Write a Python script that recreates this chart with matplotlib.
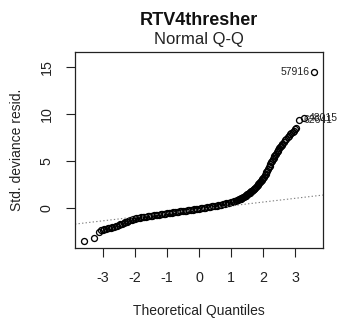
import matplotlib
matplotlib.use("Agg")
import matplotlib.pyplot as plt
from matplotlib.transforms import blended_transform_factory, ScaledTranslation

plt.rcParams['font.family'] = ['Liberation Sans', 'DejaVu Sans']

# Sorted standardized deviance residuals against their theoretical normal quantiles
theoretical = [
    -3.58, -3.28, -3.13, -3.06,
    -3.00, -2.95, -2.90, -2.85, -2.80, -2.75, -2.70, -2.65, -2.60, -2.55,
    -2.50, -2.45, -2.40, -2.35, -2.30, -2.25, -2.20, -2.15, -2.10, -2.05,
    -2.00, -1.95, -1.90, -1.85, -1.80, -1.75, -1.70, -1.65, -1.60, -1.55,
    -1.50, -1.45, -1.40, -1.35, -1.30, -1.25, -1.20, -1.15, -1.10, -1.05,
    -1.00, -0.95, -0.90, -0.85, -0.80, -0.75, -0.70, -0.65, -0.60, -0.55,
    -0.50, -0.45, -0.40, -0.35, -0.30, -0.25, -0.20, -0.15, -0.10, -0.05,
    0.00, 0.05, 0.10, 0.15, 0.20, 0.25, 0.30, 0.35, 0.40, 0.45,
    0.50, 0.55, 0.60, 0.65, 0.70, 0.75, 0.80, 0.85, 0.90, 0.95,
    1.00, 1.05, 1.10, 1.15, 1.20,
    1.225, 1.250, 1.275, 1.300, 1.325, 1.350, 1.375, 1.400, 1.425, 1.450,
    1.475, 1.500, 1.525, 1.550, 1.575, 1.600, 1.625, 1.650, 1.675, 1.700,
    1.725, 1.750, 1.775, 1.800, 1.825, 1.850, 1.875, 1.900, 1.925, 1.950,
    1.975, 2.000, 2.025, 2.050, 2.075, 2.100, 2.125, 2.150, 2.175, 2.200,
    2.225, 2.250, 2.275, 2.300, 2.325, 2.350, 2.375, 2.400, 2.425, 2.450,
    2.475, 2.500, 2.525, 2.550, 2.575, 2.600,
    2.64, 2.68, 2.72, 2.76, 2.80, 2.84, 2.88, 2.92, 2.96, 3.00, 3.04,
    3.13, 3.28, 3.58,
]
std_dev_resid = [
    -3.48, -3.19, -2.55, -2.36,
    -2.30, -2.26, -2.21, -2.16, -2.12, -2.08, -2.04, -1.99, -1.95, -1.89,
    -1.82, -1.75, -1.68, -1.60, -1.53, -1.45, -1.38, -1.31, -1.24, -1.18,
    -1.12, -1.08, -1.05, -1.01, -0.98, -0.95, -0.92, -0.90, -0.87, -0.85,
    -0.82, -0.80, -0.77, -0.75, -0.72, -0.70, -0.67, -0.65, -0.62, -0.60,
    -0.57, -0.54, -0.52, -0.49, -0.46, -0.44, -0.41, -0.39, -0.36, -0.34,
    -0.31, -0.29, -0.26, -0.24, -0.21, -0.19, -0.16, -0.14, -0.11, -0.09,
    -0.06, -0.03, -0.01, 0.02, 0.05, 0.08, 0.11, 0.14, 0.17, 0.20,
    0.23, 0.27, 0.30, 0.34, 0.37, 0.41, 0.45, 0.49, 0.53, 0.57,
    0.62, 0.67, 0.73, 0.79, 0.85,
    0.89, 0.92, 0.96, 1.00, 1.05, 1.10, 1.15, 1.20, 1.26, 1.32,
    1.38, 1.45, 1.51, 1.58, 1.65, 1.72, 1.79, 1.86, 1.93, 2.00,
    2.08, 2.17, 2.26, 2.35, 2.45, 2.55, 2.65, 2.75, 2.86, 2.97,
    3.08, 3.20, 3.34, 3.49, 3.64, 3.80, 3.97, 4.15, 4.33, 4.52,
    4.70, 4.87, 5.04, 5.20, 5.35, 5.50, 5.65, 5.80, 5.94, 6.08,
    6.22, 6.35, 6.48, 6.60, 6.73, 6.85,
    7.03, 7.21, 7.38, 7.54, 7.70, 7.84, 7.98, 8.12, 8.26, 8.40, 8.52,
    9.42, 9.60, 14.50,
]

# Observation ids of the three largest residuals
extreme_ids = ["62641", "48015", "57916"]
extreme_side = ["right", "right", "left"]

# Reference line through the quartiles
qqline_intercept = -0.16
qqline_slope = 0.40

title_main = "RTV4thresher"
title_sub = "Normal Q-Q"
x_label = "Theoretical Quantiles"
y_label = "Std. deviance resid."
x_ticks = [-3, -2, -1, 0, 1, 2, 3]
y_ticks = [0, 5, 10, 15]

W, H = 337, 325
fig = plt.figure(figsize=(W / 100, H / 100), dpi=100)
ax = fig.add_axes([75 / W, 1 - 248 / H, (323 - 75) / W, (248 - 52) / H])

ax.plot(theoretical, std_dev_resid, linestyle='none', marker='o', markersize=4.3,
        markerfacecolor='none', markeredgecolor='black', markeredgewidth=0.95)

# R-style limits: headroom for labels, then 4% padding
xmin, xmax = min(theoretical), max(theoretical)
ymin, ymax = min(std_dev_resid), max(std_dev_resid)
ymax_lab = ymax + 0.075 * (ymax - ymin)
xpad = 0.04 * (xmax - xmin)
ypad = 0.04 * (ymax_lab - ymin)
xlo, xhi = xmin - xpad, xmax + xpad
ax.set_xlim(xlo, xhi)
ax.set_ylim(ymin - ypad, ymax_lab + ypad)

ax.plot([xlo, xhi], [qqline_intercept + qqline_slope * xlo, qqline_intercept + qqline_slope * xhi],
        linestyle=(0, (1.2, 2.0)), color='#7f7f7f', linewidth=0.8)

for k, (lab, side) in enumerate(zip(extreme_ids, extreme_side)):
    i = len(theoretical) - len(extreme_ids) + k
    off = 3 if side == "right" else -3
    ax.annotate(lab, (theoretical[i], std_dev_resid[i]), xytext=(off, 0),
                textcoords='offset points', ha='left' if side == "right" else 'right',
                va='center', fontsize=7.5, color='#222222', annotation_clip=False)

ax.set_xticks(x_ticks)
ax.set_xticklabels([str(t) for t in x_ticks])
ax.set_yticks(y_ticks)
ax.set_yticklabels([])
ax.tick_params(axis='both', direction='out', length=6.2, width=0.8, labelsize=10.3, colors='#222222')
ax.tick_params(axis='x', pad=10)

# Vertical y tick labels, set off from the axis like base R graphics
ylab_trans = blended_transform_factory(ax.transAxes, ax.transData) + \
    ScaledTranslation(-21.5 / 100, 0, fig.dpi_scale_trans)
for v in y_ticks:
    ax.text(0, v, str(v), transform=ylab_trans, rotation=90, ha='right', va='center',
            fontsize=10.3, color='#222222')

for s in ax.spines.values():
    s.set_linewidth(0.9)
    s.set_color('#222222')

ax.set_xlabel(x_label, fontsize=10, color='#222222', labelpad=14)
ax.set_ylabel(y_label, fontsize=10, color='#222222')
ax.yaxis.set_label_coords((24 - 75) / (323 - 75), 0.5)

fig.text(0.5 * (75 + 323) / W, 1 - 25 / H, title_main, ha='center', va='baseline',
         fontsize=13, fontweight='bold', color='#111111')
fig.text(0.5 * (75 + 323) / W, 1 - 44 / H, title_sub, ha='center', va='baseline',
         fontsize=12, color='#222222')

fig.savefig("out.png", dpi=100)
